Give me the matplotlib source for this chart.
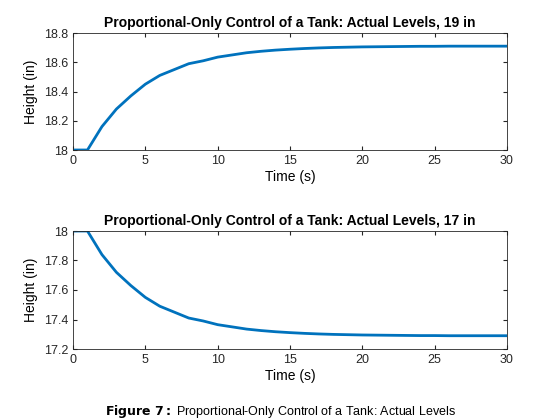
import matplotlib
matplotlib.use("Agg")
import matplotlib.pyplot as plt

plt.rcParams['font.family'] = ['Liberation Sans', 'DejaVu Sans']

# values at each second
t = list(range(0, 31))
level_19 = [18.0, 18.0, 18.16, 18.28, 18.37, 18.45, 18.51, 18.55, 18.59, 18.61, 18.635,
            18.65, 18.665, 18.675, 18.683, 18.689, 18.694, 18.698, 18.701, 18.703, 18.705,
            18.706, 18.707, 18.708, 18.709, 18.709, 18.71, 18.71, 18.71, 18.71, 18.71]
level_17 = [18.0, 18.0, 17.84, 17.72, 17.63, 17.55, 17.49, 17.45, 17.41, 17.39, 17.365,
            17.35, 17.335, 17.325, 17.317, 17.311, 17.306, 17.302, 17.299, 17.297, 17.295,
            17.294, 17.293, 17.292, 17.291, 17.291, 17.29, 17.29, 17.29, 17.29, 17.29]

W, H = 560, 420
fig = plt.figure(figsize=(W / 100, H / 100), dpi=100)

def make_axes(top, bottom):
    return fig.add_axes([73 / W, 1 - bottom / H, (507 - 73) / W, (bottom - top) / H])

panels = [
    (make_axes(33, 150), level_19, 19, (18, 18.8), [18, 18.2, 18.4, 18.6, 18.8]),
    (make_axes(231, 349), level_17, 17, (17.2, 18), [17.2, 17.4, 17.6, 17.8, 18]),
]
for ax, y, target, ylim, yticks in panels:
    ax.plot(t, y, color='#0072BD', linewidth=2)
    ax.set_xlim(0, 30)
    ax.set_ylim(*ylim)
    ax.set_yticks(yticks)
    ax.set_yticklabels([f"{v:g}" for v in yticks])
    ax.set_xticks([0, 5, 10, 15, 20, 25, 30])
    ax.tick_params(labelsize=9, direction='in', length=3, colors='#262626')
    ax.tick_params(top=True, right=True)
    for s in ax.spines.values():
        s.set_color('#262626')
        s.set_linewidth(0.6)
    ax.set_xlabel('Time (s)', fontsize=10, labelpad=2)
    ax.set_ylabel('Height (in)', fontsize=10, labelpad=4)
    ax.set_title(f'Proportional-Only Control of a Tank: Actual Levels, {target} in',
                 fontsize=10, fontweight='bold', pad=4)

fig.text(0.5, 1 - 411 / H, r'$\bf{Figure\ 7:}$ Proportional-Only Control of a Tank: Actual Levels',
         ha='center', va='center', fontsize=9)

fig.savefig('out.png', dpi=100)
